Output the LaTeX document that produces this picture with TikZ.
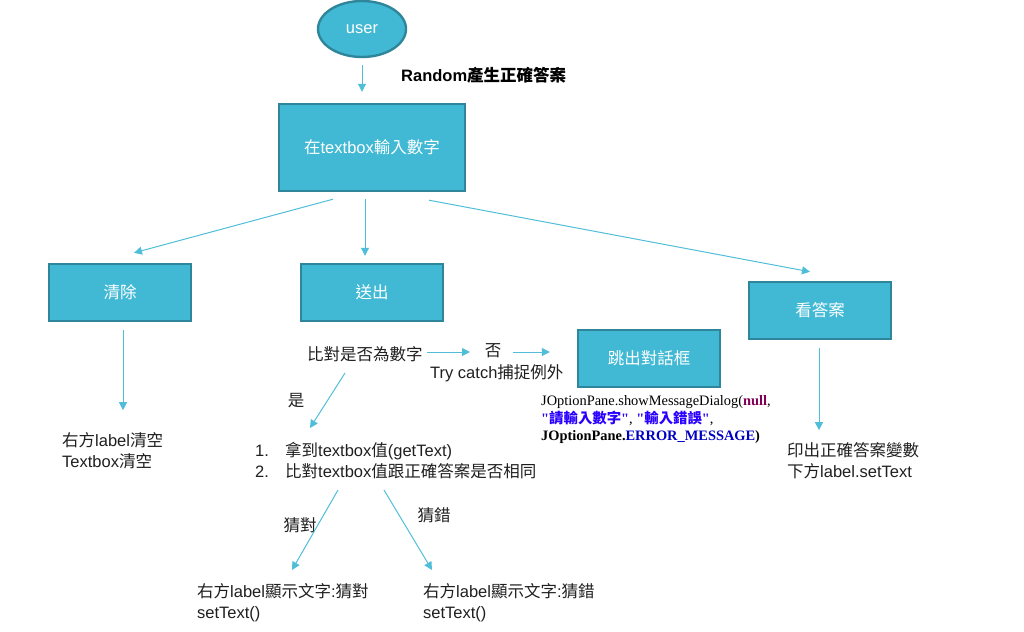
\documentclass[tikz,border=0pt]{standalone}
\usepackage{fontspec}
\setmainfont{Liberation Sans}
\newfontfamily\cj{Noto Sans CJK TC}
\newfontfamily\tms{Liberation Serif}
\usetikzlibrary{arrows.meta,shapes.geometric,calc}
\definecolor{boxfill}{RGB}{65,185,212}
\definecolor{boxline}{RGB}{47,134,155}
\definecolor{arrc}{RGB}{80,190,216}
\definecolor{jpurple}{RGB}{127,0,85}
\definecolor{jblue}{RGB}{42,0,255}
\definecolor{jfield}{RGB}{0,0,192}
\begin{document}
\begin{tikzpicture}[x=1pt,y=-1pt,
  box/.style={rectangle,draw=boxline,fill=boxfill,line width=2.4pt,minimum width=142pt,minimum height=57pt,text=white,font=\fontsize{16.5}{20}\selectfont},
  txt/.style={inner sep=0pt,font=\fontsize{16.5}{21}\selectfont,align=left,text=black!88},
  jtxt/.style={inner sep=0pt,font=\fontsize{14.4}{17.5}\selectfont\tms,align=left},
  arr/.style={draw=arrc,line width=1pt,-{Triangle[width=8pt,length=8pt]}}]
\useasboundingbox (0,0) rectangle (1024,631);
% nodes
\node[ellipse,draw=boxline,fill=boxfill,line width=2.4pt,minimum width=88pt,minimum height=56pt,text=white,font=\fontsize{16.5}{20}\selectfont] (user) at (362,29) {user};
\node[box,minimum width=186pt,minimum height=87pt] (tb) at (372,147.5) {{\cj 在}textbox{\cj 輸入數字}};
\node[box] (clr) at (120,292.5) {\cj 清除};
\node[box] (send) at (372,292.5) {\cj 送出};
\node[box] (ans) at (820,310.5) {\cj 看答案};
\node[box] (dlg) at (649,358.5) {\cj 跳出對話框};
\node[txt,anchor=west,font=\fontsize{16.5}{20}\selectfont\bfseries,text=black] (rnd) at (401,75) {Random{\cj 產生正確答案}};
\node[txt,anchor=west] (cmp) at (307,354) {\cj 比對是否為數字};
\node[txt] (no) at (493,351) {\cj 否};
\node[txt,anchor=west] (try) at (430,373) {Try catch{\cj 捕捉例外}};
\node[txt] (yes) at (296,401) {\cj 是};
\node[txt,anchor=west] (list) at (255,461) {\makebox[30pt][l]{1.}{\cj 拿到}textbox{\cj 值}(getText)\\\makebox[30pt][l]{2.}{\cj 比對}textbox{\cj 值跟正確答案是否相同}};
\node[txt] (right) at (300,525) {\cj 猜對};
\node[txt] (wrong) at (434,515) {\cj 猜錯};
\node[txt,anchor=west] (bl) at (197,603) {{\cj 右方}label{\cj 顯示文字}:{\cj 猜對}\\setText()};
\node[txt,anchor=west] (br) at (423,603) {{\cj 右方}label{\cj 顯示文字}:{\cj 猜錯}\\setText()};
\node[txt,anchor=west] (cltxt) at (62,451) {{\cj 右方}label{\cj 清空}\\Textbox{\cj 清空}};
\node[txt,anchor=west] (anstxt) at (787,461) {{\cj 印出正確答案變數}\\{\cj 下方}label.setText};
\node[jtxt,anchor=west] (java) at (541,420) {JOptionPane.showMessageDialog({\bfseries\color{jpurple}null},\\
{\bfseries\color{jblue}"{\cj 請輸入數字}"}, {\bfseries\color{jblue}"{\cj 輸入錯誤}"},\\
{\bfseries JOptionPane.{\color{jfield}ERROR\_MESSAGE})}};
% connectors
\draw[arr] ([yshift=-7pt]user.south) -- ([yshift=11pt]user.south |- tb.north);
\draw[arr] ([xshift=-39pt,yshift=-7pt]tb.south) -- ([xshift=14pt,yshift=10pt]clr.north);
\draw[arr] ([xshift=-7pt,yshift=-7pt]tb.south) -- ([xshift=-7pt,yshift=7pt]send.north);
\draw[arr] ([xshift=57pt,yshift=-8pt]tb.south) -- ([xshift=-10pt,yshift=9pt]ans.north);
\draw[arr] ([xshift=3pt,yshift=-8pt]clr.south) -- ++(0,80);
\draw[arr] ([xshift=-1pt,yshift=-8pt]ans.south) -- ++(0,82);
\draw[arr] ($(cmp.east |- no.center)+(4,1)$) -- ($(no.center)+(-23,1)$);
\draw[arr] ($(no.center)+(20,1)$) -- ($(dlg.west |- no.center)+(-27,1)$);
\draw[arr] ([xshift=38pt,yshift=-19pt]cmp.west) -- ([xshift=55pt,yshift=33pt]list.west);
\draw[arr] ([xshift=83pt,yshift=-29pt]list.west) -- ([xshift=95pt,yshift=33pt]bl.west);
\draw[arr] ([xshift=129pt,yshift=-29pt]list.west) -- ([xshift=9pt,yshift=33pt]br.west);
\end{tikzpicture}
\end{document}
